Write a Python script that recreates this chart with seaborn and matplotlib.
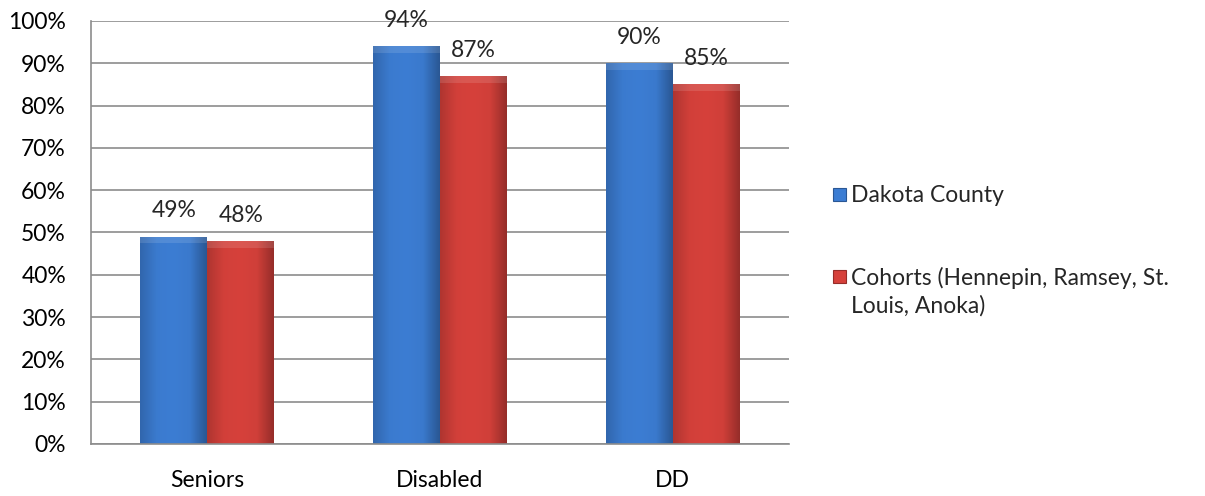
import matplotlib
matplotlib.use("Agg")
import matplotlib.pyplot as plt
import seaborn as sns
import pandas as pd
import numpy as np
from matplotlib.patches import Rectangle
from matplotlib.colors import LinearSegmentedColormap

categories = ["Seniors", "Disabled", "DD"]
series_names = ["Dakota County", "Cohorts (Hennepin, Ramsey, St.\nLouis, Anoka)"]
dakota = [49, 94, 90]
cohorts = [48, 87, 85]
ytick_labels = ["0%", "10%", "20%", "30%", "40%", "50%", "60%", "70%", "80%", "90%", "100%"]

df = pd.DataFrame({
    "category": categories * 2,
    "series": [series_names[0]] * 3 + [series_names[1]] * 3,
    "value": dakota + cohorts,
})

sns.set_theme(style="white")
plt.rcParams["font.family"] = ["Lato", "DejaVu Sans"]
FS = 16.5

blue = "#3C7DD3"
red = "#D6413B"
fig = plt.figure(figsize=(12.05, 4.96), dpi=100)
ax = fig.add_axes([91 / 1205, 52 / 496, (789 - 91) / 1205, (444 - 21) / 496])

sns.barplot(data=df, x="category", y="value", hue="series", order=categories,
            hue_order=series_names, palette=[blue, red], width=0.575,
            saturation=1, legend=False, ax=ax, edgecolor="none")

ax.set_ylim(0, 100)
ax.set_xlim(-0.5, 2.5)
ax.set_yticks(np.arange(0, 101, 10))
ax.set_yticklabels(ytick_labels, fontsize=FS, color="black")
ax.tick_params(axis="x", labelsize=FS, length=0, pad=19, labelcolor="black")
ax.tick_params(axis="y", length=0, pad=18)
ax.set_xlabel("")
ax.set_ylabel("")
ax.yaxis.grid(True, color="#8C8C8C", linewidth=1.2)
ax.set_axisbelow(True)
for s in ["top", "right"]:
    ax.spines[s].set_visible(False)
for s in ["left", "bottom"]:
    ax.spines[s].set_color("#8C8C8C")
    ax.spines[s].set_linewidth(1.2)

# gradient shading for a bevel look
def shade(base):
    c = np.array(matplotlib.colors.to_rgb(base))
    return LinearSegmentedColormap.from_list(
        "g", [c * 0.82, c * 0.98, c * 1.0, c * 0.97, c * 0.70])

cmaps = {blue: shade(blue), red: shade(red)}
for bar in list(ax.patches):
    x, y = bar.get_x(), bar.get_y()
    w, h = bar.get_width(), bar.get_height()
    if h <= 0:
        continue
    fc = matplotlib.colors.to_hex(bar.get_facecolor()[:3]).upper()
    cm = cmaps[blue] if fc == blue.upper() else cmaps[red]
    grad = np.linspace(0, 1, 100).reshape(1, -1)
    im = ax.imshow(grad, extent=[x, x + w, y, y + h], aspect="auto", cmap=cm,
                   origin="lower", zorder=bar.get_zorder() + 0.1)
    im.set_clip_path(bar)
    ax.add_patch(Rectangle((x, y + h - 1.6), w, 1.6, facecolor="white", alpha=0.12,
                           edgecolor="none", zorder=bar.get_zorder() + 0.2))
    ax.annotate(f"{int(round(h))}%", (x + w / 2, y + h), xytext=(0, 11),
                textcoords="offset points", ha="center", va="bottom", fontsize=FS)

# legend
items = [(blue, series_names[0], 195), (red, series_names[1], 277)]
for color, label, ypix in items:
    fy = 1 - ypix / 496
    fig.patches.append(Rectangle((833 / 1205, fy - 6 / 496), 13 / 1205, 13 / 496,
                                 transform=fig.transFigure, facecolor=color,
                                 edgecolor=matplotlib.colors.to_hex(np.array(matplotlib.colors.to_rgb(color)) * 0.7),
                                 linewidth=0.8))
    fig.text(851 / 1205, fy + 10 / 496, label, fontsize=FS, va="top", ha="left",
             linespacing=1.32)

fig.savefig("out.png", dpi=100, facecolor="white")
